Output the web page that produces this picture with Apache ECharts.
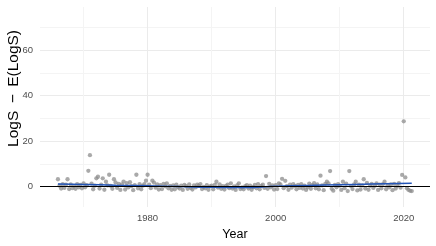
<!DOCTYPE html>
<html><head><meta charset="utf-8">
<script src="https://cdn.jsdelivr.net/npm/echarts@6/dist/echarts.min.js"></script>
<style>html,body{margin:0;padding:0;background:#fff}#c{width:436px;height:246px}</style>
</head><body><div id="c"></div>
<script>
// one row per year, four quarterly values (q1..q4)
const years = [1966,1967,1968,1969,1970,1971,1972,1973,1974,1975,1976,1977,1978,1979,1980,1981,1982,1983,1984,1985,1986,1987,1988,1989,1990,1991,1992,1993,1994,1995,1996,1997,1998,1999,2000,2001,2002,2003,2004,2005,2006,2007,2008,2009,2010,2011,2012,2013,2014,2015,2016,2017,2018,2019,2020,2021];
const q1 = [3.2,-0.6,0.9,1.1,1.4,13.8,3.6,3.6,5.2,1.8,0.9,-0.4,0.6,-1.2,5.2,1.7,0.6,1.4,0.5,-0.9,0.2,-1.3,0.3,-0.8,0.4,-0.5,-1.3,1.4,0.5,-1.2,0.4,-0.8,0.8,1.2,0.6,3.4,-1.4,0.3,1.1,-0.4,1.5,4.8,2.1,-1.8,0.4,1.3,-1.1,0.8,-0.9,1.2,-1.5,2.1,0.9,0.3,28.7,-1.9];
const q2 = [0.4,0.8,-0.7,-0.4,-0.3,1.3,4.3,-1.4,0.3,-0.6,2.2,1.9,5.2,0.4,0.8,-0.5,-1.1,-0.8,-1.2,0.4,-1.0,0.5,1.1,0.6,-1.2,0.9,0.3,-0.9,1.4,0.2,-1.4,1.1,-0.6,-0.3,-1.1,-0.7,0.8,-1.2,-0.9,1.3,-0.8,0.5,1.4,0.7,-1.5,-2.0,0.9,-1.3,1.6,-0.6,0.8,-1.2,-1.6,1.5,4.0,-2.0];
const q3 = [-0.9,3.2,0.3,0.7,0.6,-1.2,-0.9,2.1,-1.0,1.2,-1.3,0.2,-0.8,1.0,-0.7,0.9,1.2,0.3,0.8,-1.5,0.9,-0.4,-1.1,-1.4,0.7,-1.0,0.8,0.1,-1.1,0.6,-0.2,-1.2,4.6,0.5,1.4,2.5,-0.5,0.7,0.4,-1.0,0.9,-1.6,6.8,-0.3,2.1,6.8,2.1,0.5,-1.4,0.4,-0.8,0.6,1.2,-0.5,-0.8,null];
const q4 = [1.0,-1.1,-1.0,-0.8,6.9,0.4,0.8,0.5,3.2,-1.5,1.5,-1.6,1.1,2.6,2.6,-1.3,0.1,-1.4,-0.3,0.7,-0.6,0.8,-0.2,0.1,2.1,0.2,-0.7,-1.5,-0.4,-0.9,0.7,0.3,-1.0,-1.3,0.9,0.2,1.0,-0.6,-1.5,0.6,-1.2,1.2,-1.0,1.0,-0.7,0.2,-1.7,3.2,0.3,1.4,1.1,-0.4,-0.9,5.1,-1.5,null];
const quarterOffsets = [0, 0.25, 0.5, 0.75];
// smoothed trend
const trendYears = [1966,1970,1975,1980,1985,1990,1995,2000,2005,2010,2015,2021.25];
const trendValues = [1.1,0.9,0.6,0.35,0.0,-0.35,-0.4,0.1,0.5,0.8,1.1,1.5];
// axes
const xGrid = [1970,1980,1990,2000,2010,2020];
const xLabels = [1980,2000,2020];
const yGrid = [0,10,20,30,40,50,60,70];
const yLabels = [0,20,40,60];
const xTitle = 'Year';
const yTitle = 'LogS \u2009\u2212\u2009 E(LogS)';

const points = [];
const qs = [q1,q2,q3,q4];
years.forEach((yr,i)=>{ qs.forEach((q,k)=>{ if(q[i]!==null) points.push([yr+quarterOffsets[k], q[i]]); }); });
const trend = trendYears.map((y,i)=>[y,trendValues[i]]);

const MAJ='#ebebeb', MIN='#f4f4f4';
const chart = echarts.init(document.getElementById('c'), null, {renderer:'canvas'});
chart.setOption({
  animation:false,
  backgroundColor:'#fff',
  textStyle:{fontFamily:'Liberation Sans, Arial, sans-serif'},
  grid:{left:40,right:6,top:7,bottom:39,containLabel:false,outerBoundsMode:'none'},
  graphic:[{type:'text', left:6, top:30, rotation:Math.PI/2,
    style:{text:yTitle, fill:'#000', font:'15.5px "Liberation Sans", Arial, sans-serif'}}],
  xAxis:{
    type:'value', min:1963.2, max:2024.1,
    name:xTitle, nameLocation:'middle', nameGap:20,
    nameTextStyle:{color:'#000',fontSize:12.5},
    axisLine:{show:false},
    axisTick:{show:false, customValues:xGrid},
    axisLabel:{customValues:xLabels, color:'#4d4d4d', fontSize:9.5, margin:6, formatter:v=>String(v)},
    splitLine:{show:true, lineStyle:{width:1, color:[MIN,MAJ,MIN,MAJ,MIN,MAJ]}}
  },
  yAxis:{
    type:'value', min:-9, max:79,
    axisLine:{show:false},
    axisTick:{show:false, customValues:yGrid},
    axisLabel:{customValues:yLabels, color:'#4d4d4d', fontSize:9.5, margin:7},
    splitLine:{show:true, lineStyle:{width:1, color:[MAJ,MIN,MAJ,MIN,MAJ,MIN,MAJ,MIN]}}
  },
  series:[
    {type:'scatter', data:points, symbolSize:4.3,
     itemStyle:{color:'#8c8c8c', opacity:0.75}, z:2,
     markLine:{silent:true, symbol:['none','none'], label:{show:false},
       lineStyle:{color:'#000', width:1.2, type:'solid'}, data:[{yAxis:0}]}},
    {type:'line', data:trend, smooth:0.5, showSymbol:false, symbol:'none',
     lineStyle:{color:'#2456b8', width:1.5}, z:4}
  ]
});
</script></body></html>
